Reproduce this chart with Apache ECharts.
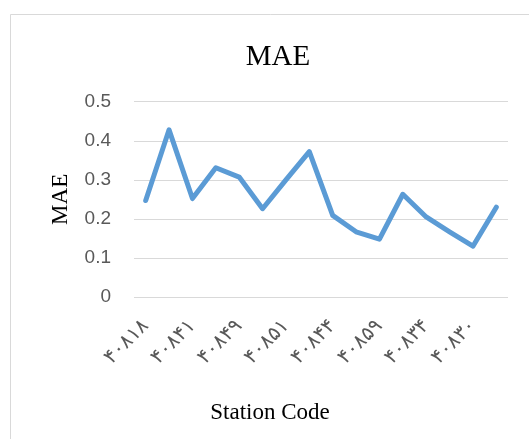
<!DOCTYPE html>
<html>
<head>
<meta charset="utf-8">
<script src="https://cdn.jsdelivr.net/npm/echarts@6/dist/echarts.min.js"></script>
<style>html,body{margin:0;padding:0;background:#fff}#c{width:529px;height:439px}</style>
</head>
<body>
<div id="c"></div>
<script>
const stations = ['۴۰۸۱۸','۴۰۸۲۰','۴۰۸۴۱','۴۰۸۴۷','۴۰۸۴۹','۴۰۸۴۸','۴۰۸۵۱','۴۰۸۳۶','۴۰۸۴۴','۴۰۸۵۶','۴۰۸۵۹','۴۰۸۴۳','۴۰۸۳۴','۴۰۸۲۱','۴۰۸۳۰','۴۰۸۳۱'];
const mae = [0.247, 0.428, 0.252, 0.331, 0.307, 0.226, 0.300, 0.372, 0.209, 0.167, 0.148, 0.263, 0.205, 0.167, 0.130, 0.230];
const yTicks = [0, 0.1, 0.2, 0.3, 0.4, 0.5];
const titleText = 'MAE';
const yName = 'MAE';
const xName = 'Station Code';

const chart = echarts.init(document.getElementById('c'), null, {renderer: 'canvas'});
chart.setOption({
  animation: false,
  backgroundColor: '#fff',
  title: {
    text: titleText, left: 273, top: 38, textAlign: 'center',
    textStyle: {fontFamily: 'Liberation Serif', fontSize: 29, fontWeight: 'normal', color: '#000'}
  },
  grid: {left: 134, right: 21, top: 101.7, bottom: 142, containLabel: false},
  xAxis: {
    type: 'category', data: stations, boundaryGap: true,
    axisLine: {show: false}, axisTick: {show: false},
    axisLabel: {interval: 1, rotate: 45, margin: 26, color: '#595959', fontFamily: 'DejaVu Sans', fontSize: 20}
  },
  yAxis: {
    type: 'value', min: yTicks[0], max: yTicks[yTicks.length - 1], interval: 0.1,
    name: yName, nameLocation: 'middle', nameRotate: 90, nameGap: 62,
    nameTextStyle: {fontFamily: 'Liberation Serif', fontSize: 23, color: '#000'},
    axisLine: {show: false}, axisTick: {show: false},
    axisLabel: {margin: 23, color: '#595959', fontFamily: 'Liberation Sans', fontSize: 19,
      formatter: v => (Math.round(v * 10) / 10).toString()},
    splitLine: {lineStyle: {color: '#d9d9d9', width: 1}}
  },
  graphic: [
    {type: 'rect', shape: {x: 10.5, y: 14.5, width: 700, height: 700}, style: {fill: 'none', stroke: '#d9d9d9', lineWidth: 1}, silent: true},
    {type: 'text', x: 270, y: 413, style: {text: xName, fill: '#000', font: '23px "Liberation Serif"', textAlign: 'center', textVerticalAlign: 'middle'}}
  ],
  series: [{
    type: 'line', data: mae, symbol: 'none',
    lineStyle: {color: '#5B9BD5', width: 5, join: 'round', cap: 'round'}
  }]
});
</script>
</body>
</html>
